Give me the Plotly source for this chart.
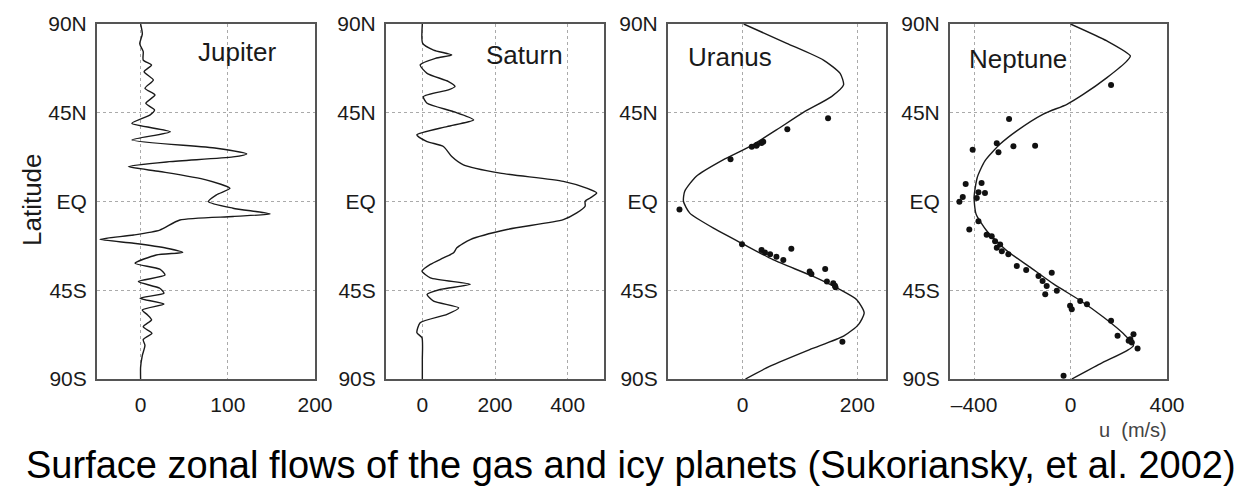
import plotly.graph_objects as go

# ---------------- data ----------------
lat_ticks = [-90, -45, 0, 45, 90]
lat_labels = ["90S", "45S", "EQ", "45N", "90N"]

jup_lat = [90, 85, 80, 76, 71.7, 69.2, 65.8, 61.6, 57.4, 54, 49.8, 46.4, 43.9, 39.6, 35.4, 31.2,
           27, 24.1, 22.6, 20.2, 17.7, 15.2, 11, 6.7, 3.4, -0.1, -3.4, -6.3, -7.6, -9.4, -14.5,
           -17, -19.2, -21.2, -23.7, -25.8, -27.1, -31.3, -34.3, -37.3, -40.6, -44, -46.5, -49,
           -52, -55, -57.5, -60, -63.5, -66.8, -70, -73, -78, -84, -90]
jup_u = [0, 2, -1, 3, 3, 12.6, 4, 14.6, 5, 16.5, 6, 16, 11, -10, 34, -10,
         87, 121.7, 106, 33, -14, 22, 75, 102.5, 87, 77.7, 106, 148.4, 106, 45, 22,
         -8, -46.6, -8, 30, 48.3, 18, -6.4, 22, 28, -2.6, 22, 26.8, -0.7,
         26.8, 2, 8, 12.6, 3, 13, 3, 5, 2, 0, 0]

sat_lat = [90, 80.2, 76.8, 74.3, 72.6, 69.2, 65, 60.8, 58.3, 56.6, 53.2, 49.8, 45.6, 41.4, 38,
           33.8, 30.4, 27.9, 22.8, 18.6, 14.4, 10.2, 6.8, 4.3, 1.8, 0.1, -2.4, -5.8, -9.2,
           -14.2, -19.3, -23.5, -26, -28.6, -31.9, -35.3, -38.7, -42, -44.6, -47.1, -50.5,
           -53.9, -57.2, -61.5, -66.5, -69.1, -80, -90]
sat_u = [0, 1, 31, 81, 36, -6, 13, 72, 90, 72, 3, 13, 86, 141, 68,
         -15, 13, 58, 81, 113, 214, 388, 452, 480, 462, 448, 448, 425, 388,
         233, 132, 95, 86, 58, 22, -1, 22, 132, 49, 13, 31,
         100, 68, -6, -15, -1, 0, 0]

ura_lat = [90, 80.2, 71.7, 65, 59.1, 53.2, 45.2, 36.3, 27.9, 21.1, 12.7, 5.1, 0, -5.9, -14.3,
           -21.1, -29.5, -38, -44.7, -49.8, -56.5, -62.4, -68.3, -75.1, -83.5, -90]
ura_u = [2, 77, 141, 170, 176, 155, 106, 59, 13, -34, -81, -101, -103, -92, -46,
         -2, 53, 123, 170, 199, 212, 202, 176, 117, 48, 5]
ura_obs_lat = [42.2, 36.6, 30.3, 28.3, 27.8, 28.8, 29.6, 21.4, -4, -21.7, -24.6, -25.9, -26.8,
               -28, -29.6, -23.9, -35.5, -36.8, -34.2, -40.6, -41.5, -42.7, -43.5, -71.1]
ura_obs_u = [149, 78, 36, 24, 16, 25, 33, -21, -110, -1, 33, 39, 48,
             59, 71, 85, 117, 120, 144, 147, 158, 161, 162, 174]

nep_lat = [90, 81.4, 73.8, 71.3, 62.8, 54.4, 49.3, 44.3, 35.8, 29.1, 20.6, 12.2, 2.1, -6.3,
           -14.8, -24.9, -33.3, -41.8, -50.2, -58.7, -67.1, -73, -75.6, -82.3, -90]
nep_u = [0, 151, 248, 234, 151, 54, -15, -113, -223, -292, -355, -387, -400, -392,
         -348, -265, -168, -71, 40, 137, 220, 261, 234, 123, 5]
nep_obs_lat = [59.1, 41.8, 29.5, 25, 28, 28.3, 26.3, 8.9, 9.4, 4.7, 4.3, 1.8, 2.3, -0.1, -10,
               -14.2, -16.8, -17.6, -20.1, -21.8, -23.5, -25.2, -26.8, -32.7, -34.7, -37.8,
               -36.1, -40.3, -42.8, -47, -45.3, -52.9, -54.6, -50.4, -52.1, -60.5, -68.1,
               -69.8, -67.3, -71.5, -70.6, -74.5, -88.4]
nep_obs_u = [168, -255, -306, -299, -237, -147, -406, -435, -369, -382, -355, -389, -447, -461,
             -382, -420, -348, -327, -313, -292, -306, -285, -258, -223, -184, -133,
             -78, -116, -99, -105, -57, -2, 5, 40, 68, 168, 195,
             248, 261, 254, 241, 278, -29]

planets = ["Jupiter", "Saturn", "Uranus", "Neptune"]
x_ranges = [[-50, 200], [-100, 500], [-130, 250], [-500, 400]]
x_ticks = [[0, 100, 200], [0, 200, 400], [0, 200], [-400, 0, 400]]
x_ticktext = [["0", "100", "200"], ["0", "200", "400"], ["0", "200"], ["\u2013400", "0", "400"]]

# ---------------- layout geometry ----------------
W, H = 1248, 494
x_dom_px = [(97, 315), (386, 604), (668, 886), (950, 1167)]
y_dom = [1 - 379 / H, 1 - 24 / H]
label_pos = [(237, 52), (524, 55), (730, 57), (1018, 59)]

FONT = "Liberation Sans, Arial, Helvetica, sans-serif"
LINE = "#1a1a1a"

fig = go.Figure()
curves = [(jup_u, jup_lat), (sat_u, sat_lat), (ura_u, ura_lat), (nep_u, nep_lat)]
for i, (u, lat) in enumerate(curves):
    sfx = "" if i == 0 else str(i + 1)
    fig.add_trace(go.Scatter(x=u, y=lat, mode="lines", xaxis="x" + sfx, yaxis="y" + sfx,
                             line=dict(color=LINE, width=1.4, shape="spline", smoothing=0.6),
                             showlegend=False, hoverinfo="skip"))
for i, (u, lat) in [(2, (ura_obs_u, ura_obs_lat)), (3, (nep_obs_u, nep_obs_lat))]:
    sfx = str(i + 1)
    fig.add_trace(go.Scatter(x=u, y=lat, mode="markers", xaxis="x" + sfx, yaxis="y" + sfx,
                             marker=dict(color="#111", size=6),
                             showlegend=False, hoverinfo="skip"))

layout = dict(width=W, height=H, margin=dict(l=0, r=0, t=0, b=0, autoexpand=False),
              paper_bgcolor="white", plot_bgcolor="white",
              font=dict(family=FONT, color="#1a1a1a"))
annotations = []
for i in range(4):
    sfx = "" if i == 0 else str(i + 1)
    xa = dict(domain=[x_dom_px[i][0] / W, x_dom_px[i][1] / W], range=x_ranges[i],
              anchor="y" + sfx, tickvals=x_ticks[i], ticktext=x_ticktext[i],
              showline=True, mirror=True, linecolor="#555", linewidth=2,
              showgrid=True, griddash="dot", gridcolor="#aaa", gridwidth=1,
              zeroline=False, ticks="", ticklabelstandoff=6, automargin=False,
              tickfont=dict(size=21, family=FONT, color="#1a1a1a"))
    ya = dict(domain=y_dom, range=[-90, 90], anchor="x" + sfx,
              tickvals=lat_ticks, ticktext=lat_labels,
              showline=True, mirror=True, linecolor="#555", linewidth=2,
              showgrid=True, griddash="dot", gridcolor="#aaa", gridwidth=1,
              zeroline=False, ticks="", ticklabelstandoff=4, automargin=False,
              tickfont=dict(size=21, family=FONT, color="#1a1a1a"))
    layout["xaxis" + sfx] = xa
    layout["yaxis" + sfx] = ya
    lx, ly = label_pos[i]
    annotations.append(dict(text=planets[i], x=lx / W, y=1 - ly / H, xref="paper", yref="paper",
                            showarrow=False, font=dict(size=26, family=FONT, color="#1a1a1a"),
                            xanchor="center", yanchor="middle"))

annotations.append(dict(text="Latitude", x=32 / W, y=1 - 200 / H, xref="paper", yref="paper",
                        showarrow=False, textangle=-90,
                        font=dict(size=26, family=FONT, color="#1a1a1a"),
                        xanchor="center", yanchor="middle"))
annotations.append(dict(text="u  (m/s)", x=1133 / W, y=1 - 430 / H, xref="paper", yref="paper",
                        showarrow=False, font=dict(size=20, family=FONT, color="#444"),
                        xanchor="center", yanchor="middle"))
annotations.append(dict(text="Surface zonal flows of the gas and icy planets (Sukoriansky, et al. 2002)",
                        x=631 / W, y=1 - 465 / H, xref="paper", yref="paper",
                        showarrow=False, font=dict(size=38, family=FONT, color="#000"),
                        xanchor="center", yanchor="middle"))
layout["annotations"] = annotations
fig.update_layout(**layout)
fig.write_html("out.html")
